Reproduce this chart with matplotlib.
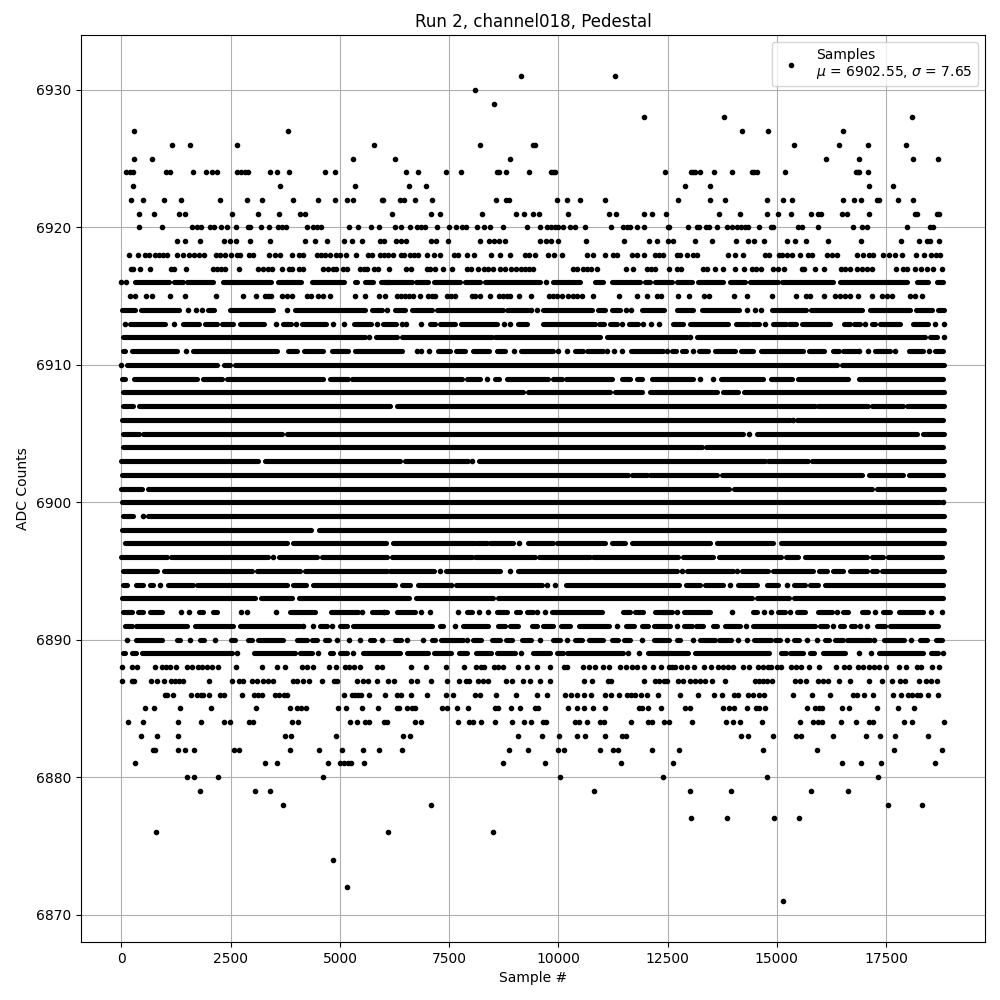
import numpy as np
import matplotlib.pyplot as plt

# samples, one list per ADC level
# dots_* = single samples, runs_* = (first, last) sample of a solid stretch of overlapping dots
dots_6931 = [9152, 11304]
dots_6930 = [8099]
dots_6929 = [8534]
dots_6928 = [11968, 13799, 18102]
dots_6927 = [294, 3819, 14211, 14806, 16522]
dots_6926 = [1164, 1576, 2651, 5786, 8214, 9427, 9473, 15401, 16431, 17095, 17965]
dots_6925 = [294, 706, 5307, 6268, 8900, 16133, 16889, 18125, 18697]
dots_6924 = [103, 194, 256, 1026, 1118, 1644, 1942, 2079, 2178, 2651, 2743, 2835, 2903, 3407, 3567, 3842,
             4666, 4895, 6520, 6794, 7435, 7779, 8603, 8649, 8809, 9335, 9824, 9869, 9915, 12448, 13028,
             13089, 13135, 13249, 13570, 13982, 14432, 14485, 14539, 15195, 16812, 16858, 16889, 17095]
dots_6923 = [271, 3636, 5352, 6588, 6978, 12906, 13478, 17118, 17667]
dots_6922 = [225, 500, 980, 1369, 2262, 2880, 3224, 3933, 4506, 4895, 5169, 5307, 5955, 5993, 6375, 6466,
             6726, 7115, 8580, 8801, 8862, 9976, 10205, 10503, 11075, 12746, 13478, 13821, 14783, 15149,
             15355, 16522, 16774, 16935, 17301, 17339, 17781, 18125]
dots_6921 = [408, 752, 1324, 1461, 2537, 3132, 3613, 4094, 4208, 6199, 7092, 7298, 8259, 9038, 9221, 9427,
             9564, 10228, 11166, 11327, 11968, 12151, 12471, 13684, 14165, 14783, 15035, 15332, 15790,
             15950, 16019, 16500, 16614, 17118, 18171, 18217, 18674, 18712]
dots_6920 = [408, 935, 1621, 1720, 1827, 2026, 2117, 2285, 2407, 2628, 2888, 2941, 3201, 3384, 3582, 3666,
             3758, 4253, 4391, 4483, 4559, 5215, 5421, 5719, 5887, 6260, 6390, 6611, 6772, 6863, 6955,
             7229, 7504, 7664, 7794, 7886, 8130, 8305, 8443, 8740, 9289, 9587, 9747, 9839, 9930, 9999,
             10114, 10274, 10381, 10617, 11212, 11487, 11563, 11640, 11807, 11968, 12517, 12540, 12975,
             13165, 13226, 13379, 13455, 13638, 13867, 13982, 14096, 14188, 14279, 14340, 14600, 14867,
             14920, 15492, 15584, 15936, 16751, 16957, 17057, 17987, 18506, 18583]
dots_6919 = [1278, 1461, 1805, 2354, 2491, 2621, 2949, 3407, 4193, 4437, 4712, 5101, 5284, 5513, 5925, 6017,
             6291, 6405, 6520, 7092, 7206, 7481, 8214, 8420, 8534, 8649, 8786, 9587, 9724, 9839, 9999,
             10640, 11510, 12082, 12265, 12517, 12631, 13135, 13524, 14073, 14348, 14485, 14714, 15241,
             15424, 15676, 16179, 16935, 17850, 18262, 18438, 18514, 18720]
dots_6918 = [180, 385, 546, 637, 775, 866, 958, 1049, 1278, 1415, 1553, 1667, 1782, 1881, 2171, 2262, 2377,
             2514, 2644, 2713, 2926, 3018, 3384, 3521, 3628, 3910, 4071, 4163, 4483, 4574, 4666, 4773,
             4911, 5001, 5139, 5376, 5651, 5727, 5925, 6017, 6109, 6222, 6390, 6466, 6611, 6703, 6794,
             7000, 7161, 7298, 7618, 7710, 7916, 8076, 8465, 8671, 8900, 9244, 9335, 9473, 9770, 9907,
             10091, 10663, 10800, 11075, 11258, 11334, 11693, 11792, 11968, 12219, 12311, 12387, 12708,
             12784, 12936, 13089, 13165, 13890, 14050, 14218, 14737, 14829, 15058, 15119, 15225, 15355,
             15531, 15721, 15798, 16156, 16271, 16385, 16828, 16980, 17118, 17209, 17438, 17560, 17705,
             17858, 18186, 18377, 18529, 18636, 18735]
dots_6917 = [225, 271, 431, 660, 1141, 1209, 1484, 2102, 2193, 2285, 2377, 2697, 3132, 3247, 3361, 3453,
             3681, 3842, 3910, 4071, 4147, 4620, 4735, 4850, 4911, 5062, 5169, 5467, 5559, 5628, 5787,
             5879, 6123, 6520, 6634, 7000, 7062, 7184, 7367, 7573, 7916, 8008, 8168, 8305, 8397, 8511,
             8671, 8786, 8923, 9038, 9152, 9244, 9335, 9427, 10342, 10434, 10571, 10663, 10739, 10892,
             11556, 11716, 12021, 12113, 12219, 12540, 12723, 12814, 13318, 13409, 13592, 13776, 14050,
             14256, 14439, 14516, 14646, 14920, 15035, 15172, 15584, 15630, 15882, 16088, 16477, 16568,
             16683, 16843, 16957, 17072, 17186, 17736, 17896, 17972, 18171, 18308, 18445, 18583, 18789]
dots_6916 = [0, 103, 9709]
dots_6915 = [195, 317, 561, 698, 1118, 1461, 2171, 2789, 3086, 3292, 3361, 3430, 3666, 3781, 3895, 4239,
             4330, 4490, 4620, 4780, 5352, 5582, 5902, 6031, 6314, 6405, 6497, 6588, 6680, 6833, 7023,
             7100, 7176, 7443, 7535, 7634, 8015, 8091, 8214, 8443, 8649, 8740, 8816, 8893, 9106, 9366,
             9793, 9885, 9976, 10075, 10228, 10327, 10419, 10533, 10800, 11395, 11792, 12036, 12250, 12341,
             12746, 12997, 13341, 13455, 14028, 14310, 14897, 15447, 15668, 15760, 16088, 16332, 16446,
             16561, 16675, 16866, 17186, 17400, 17514, 17629, 18049, 18163, 18315]
dots_6888 = [15, 248, 362, 775, 935, 1026, 1118, 1255, 1507, 1621, 1759, 1850, 1965, 2079, 2216, 2628, 3224,
             3567, 3750, 4140, 4253, 4391, 4743, 4911, 5116, 5208, 5322, 5467, 5857, 5971, 6634, 6978,
             7435, 7847, 8122, 8237, 8305, 8534, 8626, 8740, 9083, 9289, 9518, 9816, 10136, 10205, 10571,
             10709, 10846, 11029, 11166, 11418, 11556, 11693, 11807, 11968, 12174, 12357, 12540, 12593,
             12677, 12814, 12952, 13112, 13341, 13501, 13661, 13776, 13890, 14005, 14234, 14371, 14577,
             14691, 14806, 14874, 15012, 15103, 15332, 15447, 15561, 15744, 15973, 16362, 16545, 16660,
             16866, 16980, 17118, 17232, 17346, 17507, 17804, 17965, 18217, 18308, 18560, 18720]
dots_6887 = [19, 248, 294, 683, 820, 980, 1141, 1232, 1324, 1415, 2011, 2537, 2697, 2789, 2995, 3109, 3247,
             3361, 3475, 3933, 4025, 4163, 4300, 4597, 4872, 4941, 5398, 5536, 5651, 5857, 6109, 6245,
             6634, 6772, 7092, 7458, 7733, 7893, 7962, 8168, 8282, 8397, 8809, 8946, 9198, 9358, 9587,
             9816, 10594, 10777, 11144, 11212, 11968, 12219, 12311, 12425, 12479, 12746, 12860, 13013,
             13127, 13242, 13356, 13524, 13821, 14508, 14600, 14691, 14768, 14897, 15424, 15538, 15676,
             15950, 16065, 16179, 16431, 16683, 17118, 17415, 17637, 17827, 17942, 18262, 18422, 18537,
             18674]
dots_6886 = [1003, 1049, 1186, 1599, 1736, 1827, 1873, 2011, 2262, 2354, 2766, 3041, 3132, 3224, 3521, 3613,
             3727, 3796, 5101, 5284, 5352, 5421, 5490, 5665, 6039, 6314, 6405, 6634, 7000, 7435, 7596,
             8099, 8214, 8580, 9038, 9518, 9747, 10159, 10297, 10434, 10594, 10754, 11075, 11212, 11395,
             11578, 11670, 11762, 11899, 12036, 12287, 12791, 13203, 13570, 13753, 14028, 14119, 14348,
             14462, 14600, 14714, 15378, 15813, 16225, 16751, 16843, 17003, 17209, 17667, 17850, 18010,
             18102, 18217, 18285, 18468, 18697]
dots_6885 = [546, 752, 1347, 2056, 3086, 3864, 4025, 4117, 4231, 4964, 5147, 5513, 5879, 6314, 6360, 6543,
             6657, 6726, 7344, 7458, 7687, 7939, 8557, 8626, 8923, 9129, 9473, 9541, 10228, 10434, 10594,
             10800, 11075, 11853, 11922, 12059, 12357, 12906, 13020, 13776, 13913, 14028, 14325, 14531,
             14600, 14737, 15698, 15882, 15973, 16042, 16500, 16660, 17301, 17781, 18148]
dots_6884 = [156, 500, 1301, 1827, 2354, 2491, 2926, 3018, 3910, 4048, 5238, 5399, 5582, 5673, 6017, 6085,
             6726, 6863, 7710, 7962, 8053, 8237, 8557, 8946, 9221, 9381, 9656, 9724, 10388, 10480, 10663,
             10960, 11044, 11670, 12059, 12135, 12425, 12540, 13066, 13844, 14005, 14165, 14669, 15538,
             15836, 15950, 16042, 16477, 16820, 17118, 17209, 17919, 18102, 18834]
dots_6883 = [454, 820, 1301, 3750, 3887, 4918, 6451, 6611, 9083, 9633, 10022, 10434, 10617, 11075, 11464,
             11556, 14188, 14348, 14920, 15447, 15561, 16294, 17049, 17369, 17713, 18468]
dots_6882 = [729, 774, 1301, 1461, 1667, 2583, 2697, 3864, 4528, 5055, 5536, 5902, 6428, 8877, 9312, 9999,
             10136, 10960, 11258, 11372, 12151, 12769, 14691, 15927, 17690, 18789]
dots_6881 = [317, 3292, 3567, 4735, 5010, 5101, 5193, 5261, 5559, 8740, 9701, 11441, 12631, 16500, 16935,
             17392, 18628]
dots_6880 = [1507, 1667, 2216, 4620, 10045, 12403, 14783, 17323]
dots_6879 = [1805, 3063, 3407, 10823, 13020, 13959, 15790, 16637]
dots_6878 = [3704, 7092, 17553, 18331]
dots_6877 = [13043, 13867, 14943, 15515]
dots_6876 = [797, 6108, 8511]
dots_6874 = [4849]
dots_6872 = [5169]
dots_6871 = [15149]

runs_6916 = [(309, 1095), (1202, 1400), (1507, 2102), (2316, 3422), (3575, 4109), (4353, 5101), (5352, 5399),
             (5574, 5765), (5933, 6145), (6031, 6642), (6741, 7023), (7153, 7748), (7863, 8206), (8320, 9579),
             (9885, 10495), (10838, 11029), (11220, 11868), (11983, 12097), (12212, 12593), (12708, 13051),
             (13203, 13776), (13928, 14272), (14386, 15035), (15111, 16294), (16446, 17972), (18201, 18468),
             (18659, 18811)]
runs_6914 = [(4, 309), (454, 1324), (1988, 2117), (2476, 3460), (3971, 5574), (5727, 5956), (6260, 6489),
             (6657, 7100), (7229, 8725), (8832, 9312), (9656, 10762), (10915, 11067), (11220, 11411),
             (11907, 12418), (12723, 13074), (13295, 14142), (14882, 15660), (15782, 16942), (17133, 18049),
             (18186, 18544), (18697, 18827)]
dots_6914 = [1528, 1698, 1835, 3781, 6070, 9366, 9518, 11548, 11655, 14310, 14501, 14638]
runs_6913 = [(195, 995), (1400, 1782), (1919, 2178), (2293, 2560), (2713, 3262), (3704, 3872), (4124, 4681),
             (5322, 5704), (5979, 6283), (7062, 7176), (7290, 7634), (7771, 8603), (9083, 9289), (9656, 10838),
             (10937, 11044), (11182, 11334), (11624, 11830), (12631, 12860), (13013, 13890), (14066, 14371),
             (14424, 14600), (14920, 15210), (15286, 15439), (15569, 16217), (16538, 16675), (16767, 16904),
             (17171, 17248), (17362, 17820), (18110, 18468)]
dots_6913 = [88, 1202, 3529, 3987, 4834, 5101, 5841, 6421, 6512, 6863, 8763, 8900, 11464, 11945, 12113, 12311,
             14729, 17026, 18613, 18834]
runs_6912 = [(27, 5574), (5826, 6298), (6413, 8473), (8549, 10953), (11120, 12936), (13165, 18392), (18506, 18674)]
dots_6912 = [5672, 13013, 18827]
runs_6911 = [(27, 88), (233, 1278), (1629, 3552), (3819, 4010), (4178, 4605), (4811, 5193), (5345, 6413),
             (7252, 7519), (7657, 7863), (8038, 8420), (8588, 8778), (9152, 9869), (10381, 10571), (10663, 11029),
             (11655, 12387), (12593, 12692), (12822, 12921), (13226, 13432), (13585, 14043), (14172, 14447),
             (14630, 15607), (15737, 16080), (16294, 16431), (16522, 16828), (17255, 17590), (18033, 18354),
             (18621, 18796)]
dots_6911 = [1469, 6756, 6855, 7047, 8984, 9999, 10205, 11120, 11281, 11449, 12494, 13089, 16889, 17095, 17705,
             18491]
runs_6910 = [(134, 2194), (2354, 2484), (2598, 16370), (16484, 18827)]
dots_6910 = [0]
runs_6909 = [(11, 72), (286, 1720), (1858, 2293), (2407, 4620), (4773, 5193), (5284, 7786), (7901, 8206),
             (8549, 8649), (8816, 9770), (9885, 10075), (10175, 11220), (11449, 11640), (11807, 11907),
             (12135, 13089), (13715, 14691), (14859, 15340), (15492, 16637), (16889, 18811)]
dots_6909 = [8359, 13234, 13532]
runs_6908 = [(42, 9198), (9297, 11182), (11296, 11907), (12097, 13623), (13776, 14119), (14249, 18830)]
runs_6907 = [(27, 271), (408, 6146), (6314, 14997), (15058, 15874), (15950, 17095), (17171, 17881), (17987, 18830)]
runs_6906 = [(11, 15302), (15470, 18796)]
dots_6906 = [15363]
runs_6905 = [(27, 408), (500, 3666), (3796, 14234), (14539, 18201), (18354, 18830)]
dots_6905 = [14371]
runs_6904 = [(27, 13280), (13379, 18811)]
runs_6903 = [(0, 3132), (3285, 6375), (6489, 7939), (8191, 14729), (14806, 15721), (15798, 18830)]
dots_6903 = [8030]
runs_6902 = [(4, 11601), (11678, 12021), (12097, 13638), (13738, 16942), (17110, 17896), (18033, 18811)]
runs_6901 = [(0, 462), (614, 13913), (14020, 17171), (17286, 18830)]
runs_6900 = [(4, 18735)]
dots_6900 = [18811]
runs_6899 = [(27, 271), (614, 18830)]
dots_6899 = [500]
runs_6898 = [(4, 4330), (4528, 18827)]
runs_6897 = [(88, 3781), (3933, 6054), (6207, 8091), (8145, 8359), (8435, 8969), (9312, 9869), (9961, 11067),
             (11220, 11525), (11678, 13471), (13638, 14920), (15088, 18827)]
dots_6897 = [9106]
runs_6896 = [(0, 1034), (1125, 3361), (3613, 4467), (4597, 6070), (6184, 8015), (8091, 9465), (9564, 10724),
             (10800, 12746), (12845, 13547), (13684, 15088), (15210, 15492), (15645, 17057), (17171, 17423),
             (17553, 18773)]
dots_6896 = [3475]
runs_6895 = [(42, 820), (980, 2979), (3109, 4086), (4201, 6085), (6146, 7153), (7428, 8664), (9083, 12708),
             (12952, 14005), (14195, 14806), (14905, 15836), (15973, 16141), (16278, 16522), (16675, 17057),
             (17171, 17286), (17400, 18830)]
dots_6895 = [7290, 8900, 12830, 14096]
runs_6894 = [(42, 134), (332, 500), (652, 729), (1072, 1644), (1736, 3781), (3933, 4224), (4391, 6260),
             (6413, 6604), (6794, 7481), (7657, 9618), (10175, 12769), (12921, 13242), (13356, 13776),
             (14119, 14554), (14768, 15035), (15393, 15637), (15760, 15950), (16103, 18811)]
dots_6894 = [881, 7535, 9747, 9923, 13928, 15225]
runs_6893 = [(4, 3056), (3186, 3895), (4063, 6588), (6741, 8496), (8626, 14424), (14539, 15286), (15393, 18811)]
runs_6892 = [(27, 233), (385, 500), (652, 928), (1782, 1873), (2102, 2178), (3857, 4429), (4788, 5421),
             (5727, 6070), (6314, 6718), (7901, 8015), (8603, 8816), (9030, 9122), (9274, 9427), (9846, 10991),
             (11472, 11640), (11754, 11945), (12212, 12517), (12364, 12593), (12875, 13471), (14447, 14554),
             (15035, 15187), (15454, 15645), (15950, 16255), (16522, 16637), (16942, 17095), (17438, 17590),
             (17804, 18354)]
dots_6892 = [1362, 1537, 2728, 2880, 3544, 5497, 6009, 6848, 7069, 7710, 8191, 8397, 9503, 9701, 12723, 13982,
             14714, 14874, 15302, 16370, 17255, 18522, 18789]
runs_6891 = [(88, 233), (332, 1492), (1682, 2560), (2713, 4086), (4544, 4696), (5001, 5154), (5307, 7100),
             (7290, 7367), (7824, 8397), (8626, 8778), (8893, 9083), (9389, 9503), (9656, 9885), (10052, 10266),
             (10480, 11166), (11548, 11731), (11907, 12059), (12189, 12555), (12875, 13051), (13150, 13318),
             (13532, 13638), (13814, 14157), (14447, 15874), (15988, 16141), (16446, 16538), (16690, 16789),
             (17286, 17476), (17591, 18697)]
dots_6891 = [4162, 4391, 4811, 7641, 11350, 12708, 14295, 16278, 16912, 17072]
runs_6890 = [(332, 920), (1278, 1339), (1797, 1888), (2499, 2598), (2888, 2979), (3132, 3704), (4010, 4239),
             (4353, 4467), (4659, 4758), (5689, 5780), (6260, 6390), (7100, 7176), (7306, 7824), (8053, 8221),
             (8473, 8664), (8801, 8931), (9160, 9366), (9885, 10037), (10381, 10533), (10709, 11029),
             (11220, 11372), (11510, 11640), (12189, 12540), (12708, 12784), (13242, 13585), (13684, 13943),
             (14478, 14859), (14958, 15073), (15393, 15515), (16103, 16202), (16332, 16522), (16614, 17133),
             (17453, 17911), (18277, 18430), (18644, 18773)]
dots_6890 = [134, 1576, 2148, 4941, 5215, 5467, 5956, 6543, 6909, 7916, 9587, 10190, 11907, 13074, 14119, 14317,
             15241, 15698, 15912, 17232, 18079]
runs_6889 = [(27, 80), (233, 332), (462, 2522), (3033, 3971), (4086, 4353), (4773, 4850), (5001, 5169),
             (5536, 6375), (6527, 7023), (7161, 7535), (7725, 7916), (8114, 8450), (8603, 9007), (9411, 9808),
             (9961, 10098), (10190, 11487), (12059, 12479), (12326, 12975), (13127, 14829), (15088, 15210),
             (15302, 15607), (15760, 15851), (16065, 16561), (17346, 18354), (18522, 18697)]
dots_6889 = [2652, 4490, 5292, 9152, 11601, 11846, 16889, 17164, 18811]

dot_rows = [(6931, dots_6931), (6930, dots_6930), (6929, dots_6929), (6928, dots_6928), (6927, dots_6927),
            (6926, dots_6926), (6925, dots_6925), (6924, dots_6924), (6923, dots_6923), (6922, dots_6922),
            (6921, dots_6921), (6920, dots_6920), (6919, dots_6919), (6918, dots_6918), (6917, dots_6917),
            (6916, dots_6916), (6915, dots_6915), (6914, dots_6914), (6913, dots_6913), (6912, dots_6912),
            (6911, dots_6911), (6910, dots_6910), (6909, dots_6909), (6906, dots_6906), (6905, dots_6905),
            (6903, dots_6903), (6900, dots_6900), (6899, dots_6899), (6897, dots_6897), (6896, dots_6896),
            (6895, dots_6895), (6894, dots_6894), (6892, dots_6892), (6891, dots_6891), (6890, dots_6890),
            (6889, dots_6889), (6888, dots_6888), (6887, dots_6887), (6886, dots_6886), (6885, dots_6885),
            (6884, dots_6884), (6883, dots_6883), (6882, dots_6882), (6881, dots_6881), (6880, dots_6880),
            (6879, dots_6879), (6878, dots_6878), (6877, dots_6877), (6876, dots_6876), (6874, dots_6874),
            (6872, dots_6872), (6871, dots_6871)]
run_rows = [(6916, runs_6916), (6914, runs_6914), (6913, runs_6913), (6912, runs_6912), (6911, runs_6911),
            (6910, runs_6910), (6909, runs_6909), (6908, runs_6908), (6907, runs_6907), (6906, runs_6906),
            (6905, runs_6905), (6904, runs_6904), (6903, runs_6903), (6902, runs_6902), (6901, runs_6901),
            (6900, runs_6900), (6899, runs_6899), (6898, runs_6898), (6897, runs_6897), (6896, runs_6896),
            (6895, runs_6895), (6894, runs_6894), (6893, runs_6893), (6892, runs_6892), (6891, runs_6891),
            (6890, runs_6890), (6889, runs_6889)]

title = "Run 2, channel018, Pedestal"
legend_label = "Samples\n$\\mu$ = 6902.55, $\\sigma$ = 7.65"

fig, ax = plt.subplots(figsize=(10, 10))

x = np.concatenate([np.array(xs) for level, xs in dot_rows])
y = np.concatenate([np.full(len(xs), level) for level, xs in dot_rows])
ax.plot(x, y, "k.", label=legend_label)

for level, runs in run_rows:
    starts = [r[0] for r in runs]
    ends = [r[1] for r in runs]
    ax.hlines([level] * len(runs), starts, ends, colors="k", linewidth=3.7, capstyle="round")

ax.set_title(title)
ax.set_xlabel("Sample #")
ax.set_ylabel("ADC Counts")
ax.grid(True)
ax.legend(loc="upper right")
ax.set_xlim(-927, 19765)
ax.set_ylim(6868, 6934)

fig.subplots_adjust(left=0.081, right=0.985, top=0.965, bottom=0.058)
plt.savefig("out.png", dpi=100)
